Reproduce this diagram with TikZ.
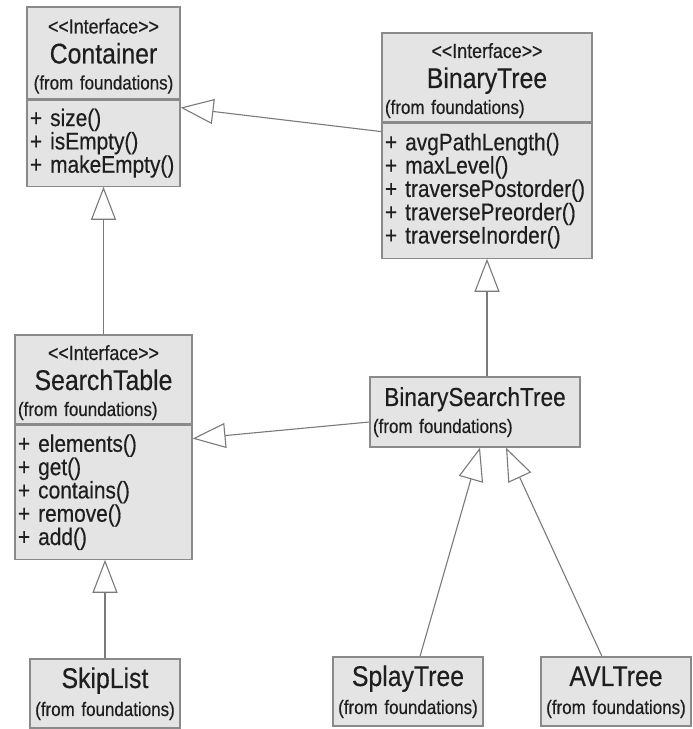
\documentclass[tikz,border=0pt]{standalone}
\usepackage{fontspec}
\setmainfont{Liberation Sans}[FakeStretch=0.87, FakeBold=0.35]
\usepackage{xcolor}
\usetikzlibrary{arrows.meta,positioning,calc}

\definecolor{boxfill}{HTML}{E4E4E4}
\definecolor{boxline}{HTML}{8A8A8A}
\definecolor{linkcol}{HTML}{7A7A7A}
\definecolor{inkcol}{HTML}{1E1E1E}

\newcommand{\stereo}{\rule{0pt}{21pt}{\fontsize{20.5}{20.5}\selectfont <\kern0pt<Interface>\kern0pt>}}
\newcommand{\clsname}[1]{{\fontsize{28.5}{28.5}\selectfont #1}}
\newcommand{\fromfd}{{\fontsize{19.5}{19.5}\selectfont (from foundations)}}

\begin{document}
\begin{tikzpicture}[x=1pt, y=-1pt,
  cls/.style={draw=boxline, fill=boxfill, line width=1.2pt, text=inkcol, inner xsep=3pt, inner ysep=0pt},
  head/.style={cls, align=center, font=\fontsize{20}{26}\selectfont},
  ops/.style={cls, align=left, font=\fontsize{24}{23.3}\selectfont},
  leaf/.style={cls, align=center, font=\fontsize{20}{28}\selectfont, text width=144pt, minimum height=69pt},
  gen/.style={draw=linkcol, line width=1.1pt, -{Triangle[open, fill=white, length=33pt, width=25pt]}}
]
  \useasboundingbox[fill=white] (0,0) rectangle (693,729);

  \node[head, text width=147pt, minimum height=92pt] (container) at (103.5,53) {\stereo\\[4pt]\clsname{Container}\\\fromfd};
  \node[ops, text width=147pt, minimum height=86pt, below=0pt of container] (containerops) {+ size()\\+ isEmpty()\\+ makeEmpty()};

  \node[head, text width=204pt, minimum height=89pt] (binarytree) at (487,77.5) {\stereo\\[4pt]\clsname{BinaryTree}\\\leftline{\fromfd}};
  \node[ops, text width=204pt, minimum height=135pt, below=0pt of binarytree] (binarytreeops) {+ avgPathLength()\\+ maxLevel()\\+ traversePostorder()\\+ traversePreorder()\\+ traverseInorder()};

  \node[head, text width=171pt, minimum height=89pt] (searchtable) at (103.5,379.5) {\stereo\\[4pt]\clsname{SearchTable}\\\leftline{\fromfd}};
  \node[ops, text width=171pt, minimum height=134pt, below=0pt of searchtable] (searchtableops) {+ elements()\\+ get()\\+ contains()\\+ remove()\\+ add()};

  \node[cls, align=center, font=\fontsize{20}{27}\selectfont, text width=204pt, minimum height=70pt] (bst) at (475,412) {\rule{0pt}{19pt}{\fontsize{26}{26}\selectfont BinarySearchTree}\\\leftline{\fromfd}};

  \node[leaf] (skiplist) at (105,693.5) {\rule{0pt}{21pt}\clsname{SkipList}\\\fromfd};
  \node[leaf] (splaytree) at (408,691.5) {\rule{0pt}{21pt}\clsname{SplayTree}\\\fromfd};
  \node[leaf] (avltree) at (616,691.5) {\rule{0pt}{21pt}\clsname{AVLTree}\\\fromfd};

  \draw[gen] ([yshift=-9pt]binarytreeops.north west) -- ([yshift=-8pt]containerops.north east);
  \draw[gen] (searchtable.north) -- (containerops.south);
  \draw[gen] ([yshift=-10pt]bst.west) -- ([yshift=-14pt]searchtableops.north east);
  \draw[gen] (bst.north -| binarytreeops.south) -- (binarytreeops.south);
  \draw[gen] (skiplist.north) -- (skiplist.north |- searchtableops.south);
  \draw[gen] ([xshift=12pt]splaytree.north) -- ([xshift=5pt]bst.south);
  \draw[gen] ([xshift=-14pt]avltree.north) -- ([xshift=31pt]bst.south);
\end{tikzpicture}
\end{document}
